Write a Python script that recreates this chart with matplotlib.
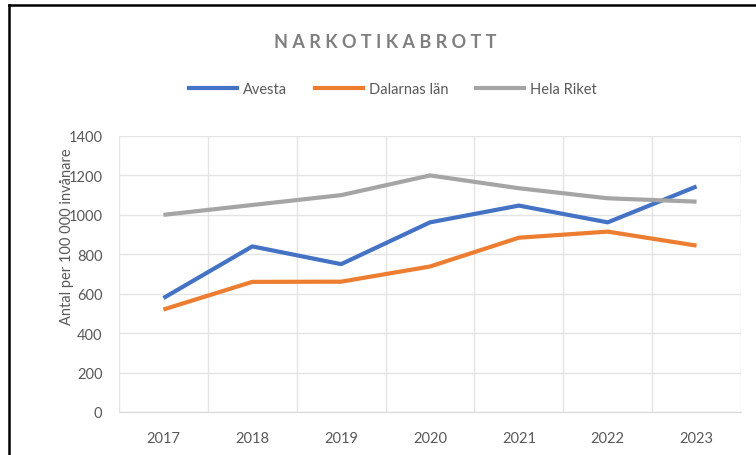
import matplotlib.pyplot as plt
from matplotlib.lines import Line2D

# Data
ar = ['2017', '2018', '2019', '2020', '2021', '2022', '2023']
avesta = [578, 840, 750, 962, 1047, 962, 1144]
dalarna = [520, 660, 661, 738, 884, 915, 844]
hela_riket = [1000, 1050, 1100, 1200, 1135, 1084, 1067]

plt.rcParams['font.family'] = ['Lato', 'DejaVu Sans']

fig = plt.figure(figsize=(7.56, 4.56), dpi=100)
W, H = 756, 456
ax = fig.add_axes([119 / W, 1 - 413 / H, (741 - 119) / W, (413 - 137) / H])

x = range(len(ar))
ax.plot(x, avesta, color='#4472C4', lw=3, label='Avesta', solid_capstyle='butt')
ax.plot(x, dalarna, color='#ED7D31', lw=3, label='Dalarnas län', solid_capstyle='butt')
ax.plot(x, hela_riket, color='#A5A5A5', lw=3, label='Hela Riket', solid_capstyle='butt')

ax.set_xlim(-0.5, len(ar) - 0.5)
ax.set_ylim(0, 1400)
ax.set_yticks(range(0, 1401, 200))
ax.set_xticks(list(x))
ax.set_xticklabels(ar)
ax.set_xticks([i - 0.5 for i in range(len(ar) + 1)], minor=True)

# grade
ax.grid(axis='y', color='#E4E4E4', lw=1)
ax.grid(axis='x', which='minor', color='#E4E4E4', lw=1)
ax.set_axisbelow(True)
for s in ['top', 'right', 'left']:
    ax.spines[s].set_visible(False)
ax.spines['bottom'].set_color('#D9D9D9')
ax.tick_params(axis='both', which='both', length=0, labelsize=10.5, colors='#595959')
ax.tick_params(axis='x', pad=14)
ax.tick_params(axis='y', pad=12)

# como na referência, o rótulo fica sobre os números do eixo
fig.text(67 / W, 1 - 237 / H, 'Antal per 100 000 invånare', rotation=90,
         ha='center', va='center', fontsize=10.5, color='#595959')

fig.text(385 / W, 1 - 42 / H, ' '.join('NARKOTIKABROTT'), ha='center', va='center',
         fontsize=13, fontweight='bold', color='#7F7F7F')

handles = [Line2D([], [], color=c, lw=3) for c in ['#4472C4', '#ED7D31', '#A5A5A5']]
fig.legend(handles, ['Avesta', 'Dalarnas län', 'Hela Riket'], loc='center',
           bbox_to_anchor=(393 / W, 1 - 90 / H), ncol=3, frameon=False,
           fontsize=10.5, labelcolor='#595959', handlelength=3.3,
           columnspacing=1.9, handletextpad=0.4)

# borda
fig.add_artist(Line2D([8.5 / W, 1], [1 - 6 / H, 1 - 6 / H], color='black', lw=1.8))
fig.add_artist(Line2D([8.5 / W, 8.5 / W], [0, 1 - 6 / H], color='black', lw=1.8))

fig.savefig('out.png', dpi=100)
